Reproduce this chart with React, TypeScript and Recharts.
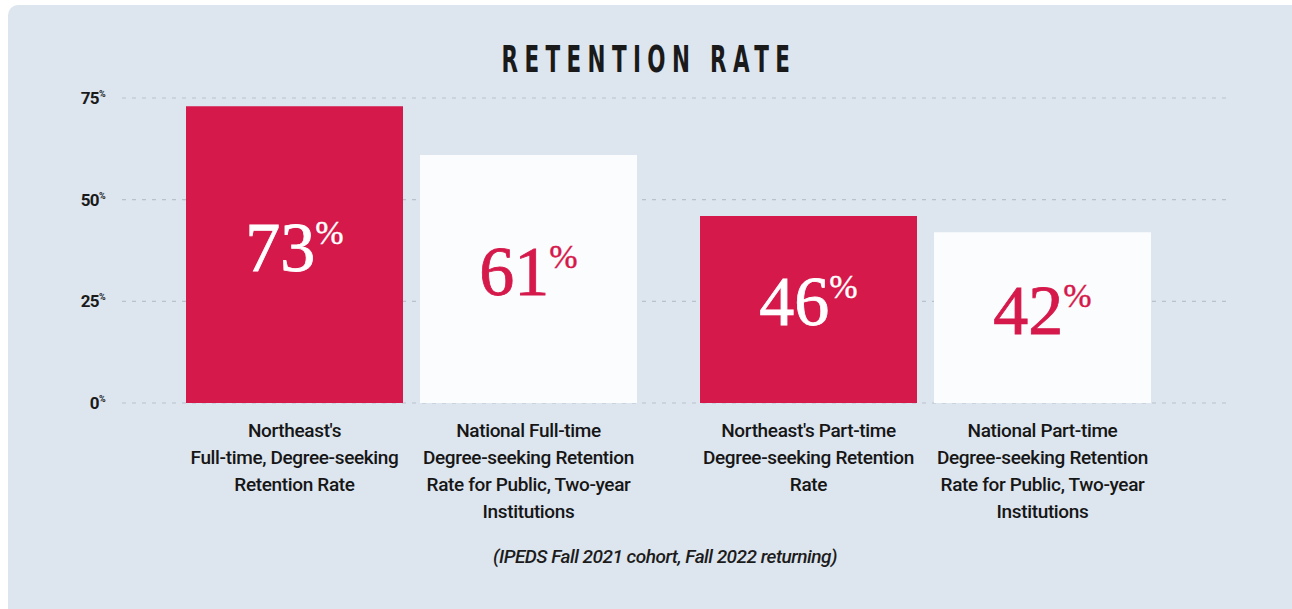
import React from "react"
import { BarChart, Bar, XAxis, YAxis, CartesianGrid, LabelList } from "recharts"

const categories = ["Full-time", "Part-time"]
const northeastValues = [73, 46]
const nationalValues = [61, 42]
const northeastLabels = [
  ["Northeast's", "Full-time, Degree-seeking", "Retention Rate"],
  ["Northeast's Part-time", "Degree-seeking Retention", "Rate"],
]
const nationalLabels = [
  ["National Full-time", "Degree-seeking Retention", "Rate for Public, Two-year", "Institutions"],
  ["National Part-time", "Degree-seeking Retention", "Rate for Public, Two-year", "Institutions"],
]
const yTicks = [0, 25, 50, 75]

const RED = "#d5194b"
const WHITE = "#fbfcfd"
const BG = "#dde5ee"
const SANS = "Roboto, 'Noto Sans', sans-serif"

const data = categories.map((c, i) => ({
  category: c,
  northeast: northeastValues[i],
  national: nationalValues[i],
}))

function YTick(props: any) {
  const { x, y, payload } = props
  return (
    <text x={x} y={y + 6} textAnchor="end" fill="#1a1a1a" fontFamily={SANS} fontWeight={700} letterSpacing={-0.6}>
      <tspan fontSize={17}>{payload.value}</tspan>
      <tspan fontSize={9} dy={-7}>%</tspan>
    </text>
  )
}

function valueLabel(color: string) {
  return (props: any) => {
    const { x, y, width, height, value } = props
    return (
      <text
        x={x + width / 2}
        y={y + height / 2 + 16}
        textAnchor="middle"
        fill={color}
        stroke={color}
        strokeWidth={0.8}
        fontFamily="'Liberation Serif', 'DejaVu Serif', serif"
      >
        <tspan fontSize={70}>{value}</tspan>
        <tspan fontSize={34} dy={-27} strokeWidth={0.4}>%</tspan>
      </text>
    )
  }
}

function nameLabel(lines: string[][]) {
  return (props: any) => {
    const { x, y, width, height, index } = props
    return (
      <g>
        {lines[index].map((line, k) => (
          <text
            key={k}
            x={x + width / 2}
            y={y + height + 34 + k * 27}
            textAnchor="middle"
            fill="#161616"
            fontFamily={SANS}
            fontWeight={500}
            fontSize={19}
            letterSpacing={-0.35}
          >
            {line}
          </text>
        ))}
      </g>
    )
  }
}

export default function App() {
  return (
    <div style={{ position: "relative", width: 1292, height: 609, background: "#ffffff", overflow: "hidden" }}>
      <style>{"body{margin:0}"}</style>
      <div style={{ position: "absolute", left: 8, top: 5, right: 0, bottom: 0, background: BG, borderTopLeftRadius: 10 }} />
      <div
        style={{
          position: "absolute",
          left: 0,
          width: 1298,
          top: 38,
          textAlign: "center",
          fontFamily: "'DejaVu Sans', sans-serif",
          fontWeight: 700,
          fontSize: 37,
          letterSpacing: 11,
          color: "#1a1a1a",
          transform: "scaleX(0.58)",
          transformOrigin: "649px 0",
        }}
      >
        RETENTION RATE
      </div>
      <div
        style={{
          position: "absolute",
          left: 0,
          width: 1330,
          top: 545,
          textAlign: "center",
          fontFamily: SANS,
          fontStyle: "italic",
          fontWeight: 500,
          fontSize: 19,
          letterSpacing: -0.5,
          color: "#1c1c1c",
        }}
      >
        (IPEDS Fall 2021 cohort, Fall 2022 returning)
      </div>
      <div style={{ position: "absolute", left: 0, top: 0 }}>
        <BarChart
          width={1292}
          height={609}
          data={data}
          margin={{ top: 98, right: 62, bottom: 206, left: 0 }}
          barGap={17}
          barSize={217}
        >
          <CartesianGrid vertical={false} stroke="#b8c2cd" strokeDasharray="4 6" strokeWidth={1.2} />
          <XAxis dataKey="category" hide padding={{ left: 32, right: 48 }} />
          <YAxis
            width={122}
            domain={[0, 75]}
            ticks={yTicks}
            axisLine={false}
            tickLine={false}
            tickSize={0}
            tickMargin={17}
            tick={<YTick />}
          />
          <Bar dataKey="northeast" fill={RED} isAnimationActive={false}>
            <LabelList dataKey="northeast" content={valueLabel("#ffffff")} />
            <LabelList dataKey="northeast" content={nameLabel(northeastLabels)} />
          </Bar>
          <Bar dataKey="national" fill={WHITE} isAnimationActive={false}>
            <LabelList dataKey="national" content={valueLabel(RED)} />
            <LabelList dataKey="national" content={nameLabel(nationalLabels)} />
          </Bar>
        </BarChart>
      </div>
    </div>
  )
}
